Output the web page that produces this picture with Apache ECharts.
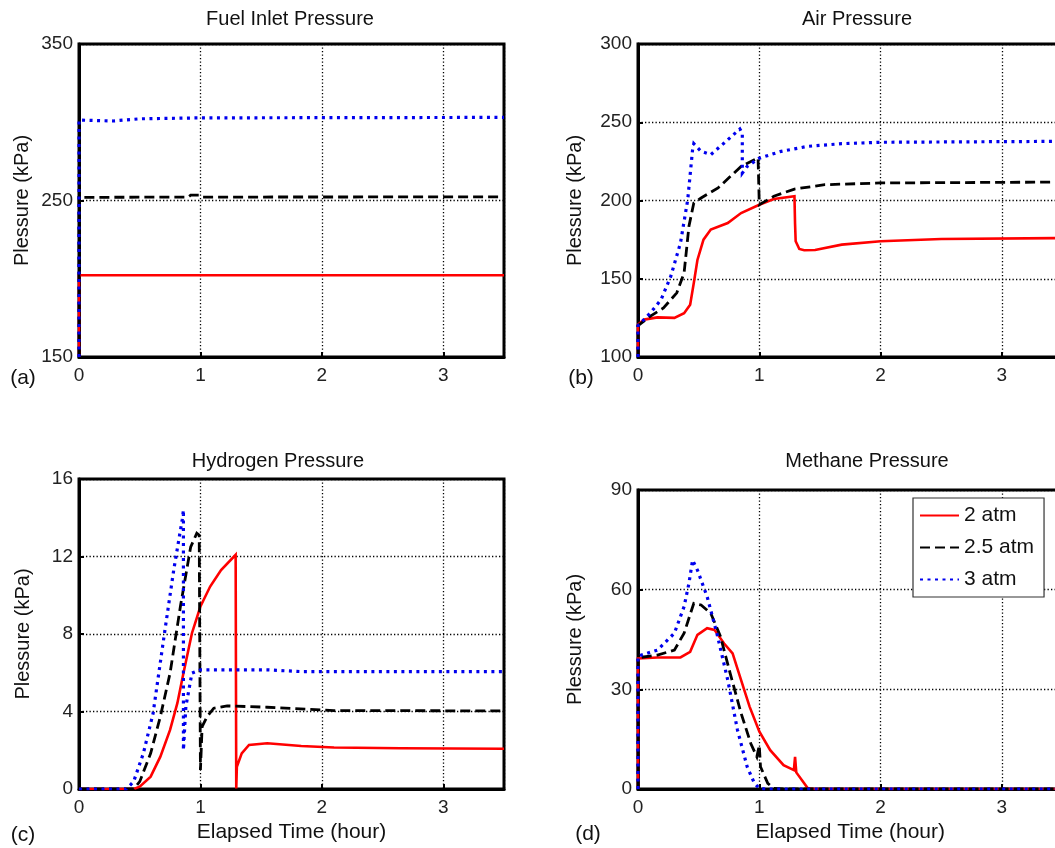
<!DOCTYPE html>
<html><head><meta charset="utf-8">
<script src="https://cdn.jsdelivr.net/npm/echarts@6/dist/echarts.min.js"></script>
<style>html,body{margin:0;padding:0;background:#fff}#c{width:1055px;height:848px}</style>
</head><body><div id="c"></div>
<script>
// ---- data ----
const seriesNames = ['2 atm', '2.5 atm', '3 atm'];
const panelTitles = ['Fuel Inlet Pressure', 'Air Pressure', 'Hydrogen Pressure', 'Methane Pressure'];
const panelLetters = ['(a)', '(b)', '(c)', '(d)'];
const yAxisName = 'Plessure (kPa)';
const xAxisName = 'Elapsed Time (hour)';

// Panel (a) fuel inlet pressure [hour, kPa]
const fuel2 = [[0,150],[0,202.2],[3.5,202.2]];
const fuel25 = [[0,150],[0,252],[0.9,252.2],[0.92,253.4],[1.0,253.4],[1.02,252.2],[3.5,252.3]];
const fuel3 = [[0,150],[0,301.4],[0.28,300.8],[0.5,302.2],[1.0,302.8],[3.5,303.1]];

// Panel (b) air pressure
const air2 = [[0,100],[0,120.7],[0.05,123.9],[0.16,125.3],[0.3,125],[0.38,128],[0.43,133.4],[0.46,147.3],[0.49,162],[0.54,175],[0.6,181.4],[0.74,185.6],[0.85,192],[1.0,197.3],[1.12,201],[1.29,202.7],[1.295,185],[1.30,174],[1.33,169],[1.37,168.2],[1.46,168.4],[1.68,171.8],[2.0,174],[2.5,175.4],[3.5,176]];
const air25 = [[0,100],[0,120],[0.1,126],[0.21,131.3],[0.32,141],[0.38,153.7],[0.42,183.5],[0.46,198.4],[0.52,201.6],[0.66,208],[0.85,221.8],[0.99,227.2],[1.0,226],[1.0,197.3],[1.12,202.7],[1.29,207.3],[1.54,210.1],[2.0,211.2],[3.5,211.8]];
const air3 = [[0,100],[0,120],[0.1,128],[0.19,136.6],[0.27,151.5],[0.35,172.8],[0.41,200.5],[0.45,232.5],[0.46,236.3],[0.52,231.4],[0.6,229.3],[0.71,236.7],[0.84,245.7],[0.86,243],[0.86,217.5],[0.9,221.8],[1.0,227],[1.18,231.4],[1.4,234.6],[1.68,236.3],[2.0,237.2],[3.5,237.8]];

// Panel (c) hydrogen pressure
const h2_2 = [[0,0],[0.45,0],[0.5,0.12],[0.59,0.64],[0.67,1.67],[0.75,3.05],[0.81,4.43],[0.86,5.98],[0.93,8.04],[1.0,9.42],[1.08,10.45],[1.17,11.3],[1.29,12.09],[1.295,0.03],[1.30,1.15],[1.34,1.84],[1.4,2.27],[1.55,2.36],[1.83,2.22],[2.1,2.14],[2.65,2.1],[3.5,2.08]];
const h2_25 = [[0,0],[0.45,0],[0.5,0.38],[0.59,1.84],[0.67,3.74],[0.75,5.98],[0.835,9.42],[0.92,12.5],[0.97,13.2],[0.99,13.1],[1.0,0.98],[1.014,3.22],[1.055,3.74],[1.11,4.17],[1.22,4.29],[1.55,4.22],[2.1,4.05],[3.5,4.03]];
const h2_3 = [[0,0],[0.39,0],[0.45,0.38],[0.53,1.84],[0.61,3.9],[0.7,7.87],[0.78,11.3],[0.85,13.9],[0.86,14.4],[0.86,2.0],[0.88,4.25],[0.93,5.98],[1.0,6.15],[1.55,6.15],[1.83,6.06],[3.5,6.06]];

// Panel (d) methane pressure
const ch4_2 = [[0,0],[0,39.3],[0.16,39.6],[0.35,39.6],[0.43,41.3],[0.49,46.4],[0.57,48.4],[0.63,47.9],[0.71,43.8],[0.78,40.8],[0.85,32.8],[0.92,24.8],[1.0,17.3],[1.09,11.7],[1.2,7.2],[1.285,5.7],[1.295,9.7],[1.305,5.0],[1.37,1.7],[1.4,0.2],[1.45,0],[3.5,0]];
const ch4_25 = [[0,0],[0,39.5],[0.16,40.3],[0.3,41.8],[0.38,46.9],[0.46,55.9],[0.52,55.4],[0.6,52.9],[0.68,45.9],[0.76,34.8],[0.85,22.8],[0.93,13.7],[0.98,9.7],[1.0,13.2],[1.01,6.7],[1.07,1.7],[1.12,0.2],[1.2,0],[3.5,0]];
const ch4_3 = [[0,0],[0,40],[0.16,41.8],[0.3,46.9],[0.38,54.9],[0.42,61.9],[0.45,68.9],[0.49,65.9],[0.57,57.9],[0.65,46.9],[0.74,32.8],[0.82,17.8],[0.9,6.7],[0.96,1.7],[1.0,0.2],[1.05,0],[3.5,0]];

const yRanges = [[150,350,100],[100,300,50],[0,16,4],[0,90,30]];
const xRange = [0, 3.5, 1];
const panelData = [[fuel2,fuel25,fuel3],[air2,air25,air3],[h2_2,h2_25,h2_3],[ch4_2,ch4_25,ch4_3]];

// ---- styles ----
const FONT = "'Liberation Sans', Arial, Helvetica, sans-serif";
const lineStyles = [
  {color:'#ff0000', width:2.6, type:'solid'},
  {color:'#000000', width:2.8, type:[10,5]},
  {color:'#0000ee', width:3.2, type:[3,4.5]}
];
const grids = [
  {left:79, top:44, width:425, height:313},
  {left:638, top:44, width:424.5, height:313},
  {left:79, top:479, width:425, height:310},
  {left:638, top:490, width:424.5, height:299}
];
const yNameGaps = [47, 53, 46, 53];

const chart = echarts.init(document.getElementById('c'), null, {renderer:'canvas'});

const option = {
  animation: false,
  backgroundColor: '#fff',
  grid: grids.map(g => Object.assign({show:true, borderColor:'#000', borderWidth:3, backgroundColor:'#fff',
    containLabel:false, outerBoundsMode:'none'}, g)),
  xAxis: grids.map((g,i) => ({
    type:'value', gridIndex:i, min:xRange[0], max:xRange[1], interval:xRange[2],
    name: i >= 2 ? xAxisName : '', nameLocation:'middle', nameGap:33,
    nameTextStyle:{fontFamily:FONT, fontSize:21, color:'#111'},
    axisLine:{show:true, onZero:false, lineStyle:{color:'#000', width:3}},
    axisTick:{show:true, inside:true, length:5, lineStyle:{color:'#000', width:2}},
    axisLabel:{margin:9, fontFamily:FONT, fontSize:19, color:'#222',
      formatter: v => Number.isInteger(v) ? String(v) : ''},
    splitLine:{show:true, lineStyle:{color:'#000', width:1.3, type:[1.3,2.2]}}
  })),
  yAxis: grids.map((g,i) => ({
    type:'value', gridIndex:i, min:yRanges[i][0], max:yRanges[i][1], interval:yRanges[i][2],
    name: yAxisName, nameLocation:'middle', nameGap:yNameGaps[i], nameRotate:90,
    nameTextStyle:{fontFamily:FONT, fontSize:20, color:'#111'},
    axisLine:{show:true, onZero:false, lineStyle:{color:'#000', width:3}},
    axisTick:{show:true, inside:true, length:5, lineStyle:{color:'#000', width:2}},
    axisLabel:{margin:6, fontFamily:FONT, fontSize:19, color:'#222'},
    splitLine:{show:true, lineStyle:{color:'#000', width:1.3, type:[1.3,2.2]}}
  })),
  legend: {
    data: seriesNames, orient:'vertical', left:913, top:498,
    padding:[7,10,7,6], itemGap:11, itemWidth:39, itemHeight:16,
    backgroundColor:'#fff', borderColor:'#333', borderWidth:1.2, borderRadius:0,
    itemStyle:{opacity:0},
    textStyle:{fontFamily:FONT, fontSize:21, color:'#111'},
    selectedMode:false
  },
  graphic: [
    ...panelTitles.map((t,i) => ({type:'text', x:[290,857,278,867][i], y:[19,19,461,461][i],
      style:{text:t, font:'20px '+FONT, fill:'#111', textAlign:'center', textVerticalAlign:'middle'}})),
    ...panelLetters.map((t,i) => ({type:'text', x:[23,581,23,588][i], y:[378,378,835,834][i],
      style:{text:t, font:'21px '+FONT, fill:'#111', textAlign:'center', textVerticalAlign:'middle'}}))
  ],
  series: []
};

panelData.forEach((arrs, p) => {
  arrs.forEach((d, j) => {
    option.series.push({
      type:'line', name:seriesNames[j], xAxisIndex:p, yAxisIndex:p,
      data:d, symbol:'none', showSymbol:false, smooth:false,
      color: lineStyles[j].color,
      lineStyle: Object.assign({cap:'butt', join:'miter'}, lineStyles[j]),
      z: 2 + j
    });
  });
});

chart.setOption(option);
</script></body></html>
